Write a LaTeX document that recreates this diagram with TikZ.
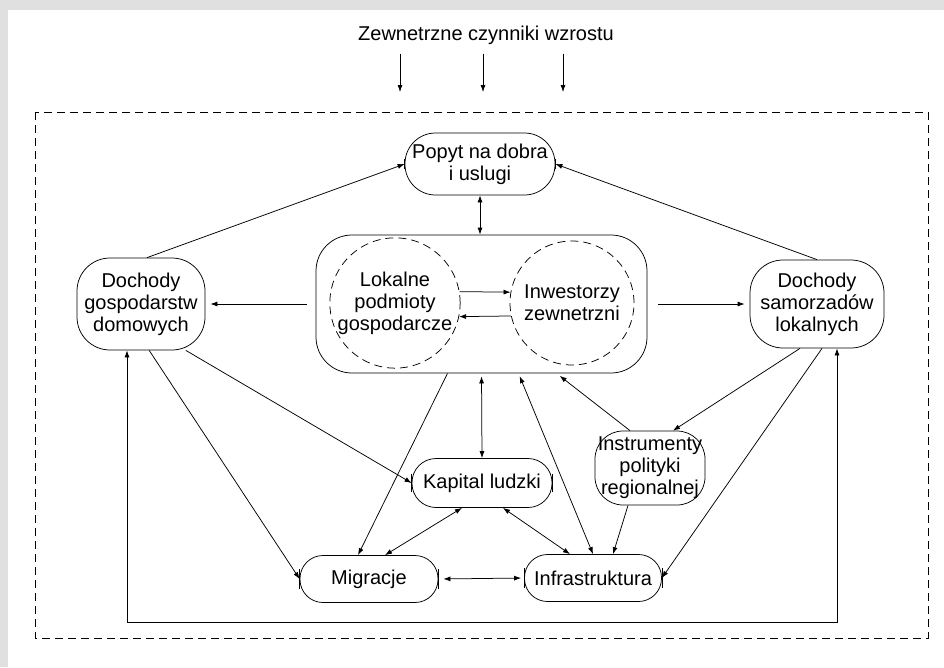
\documentclass[tikz,border=0pt]{standalone}
\usepackage{fontspec}
\setmainfont{Liberation Sans}
\usetikzlibrary{arrows.meta}
\begin{document}
\begin{tikzpicture}[x=1pt,y=1pt,line width=.75pt,>={Latex[length=7pt,width=5pt]},font=\fontsize{20}{22}\selectfont,
 ramka/.style={draw,align=center,inner sep=0pt,rounded corners=#1},
 kolo/.style={draw,circle,dash pattern=on 8pt off 5pt,minimum size=124pt,inner sep=0pt,align=center},
 kreska/.pic={\draw (0,-#1)--(0,#1);}]
\fill[black!12] (0,0) rectangle (944,-667);
\fill[white] (8,-10) rectangle (944,-667);
\useasboundingbox (0,0) rectangle (944,-667);
\draw[dash pattern=on 8pt off 5pt] (35,-112) rectangle (928,-638);
% wezly
\node[inner sep=0pt] (tytul) at (486,-35) {Zewnetrzne czynniki wzrostu};
\node[ramka=30.5pt,minimum width=150pt,minimum height=62pt] (popyt) at (480,-164) {Popyt na dobra\\i uslugi};
\node[ramka=33pt,minimum width=128pt,minimum height=92pt] (dg) at (141,-304) {Dochody\\gospodarstw\\domowych};
\node[ramka=33pt,minimum width=134pt,minimum height=88pt] (ds) at (817,-304) {Dochody\\samorzadów\\lokalnych};
\node[ramka=36pt,minimum width=331pt,minimum height=138pt] (firmy) at (481.5,-304) {};
\node[kolo] (lok) at (395,-303) {Lokalne\\podmioty\\gospodarcze};
\node[kolo] (inw) at (572,-303) {Inwestorzy\\zewnetrzni};
\node[ramka=24pt,minimum width=140pt,minimum height=49pt] (kap) at (482,-483) {Kapital ludzki};
\node[ramka=23pt,minimum width=138pt,minimum height=47pt] (migr) at (369,-579) {Migracje};
\node[ramka=23pt,minimum width=137pt,minimum height=47pt] (infra) at (593,-578) {Infrastruktura};
\node[ramka=28pt,minimum width=110pt,minimum height=74pt] (instr) at (650,-468) {Instrumenty\\polityki\\regionalnej};
\coordinate (dol) at (480,-622);
\foreach \n/\h in {popyt/5,kap/9,migr/10,infra/10} \path (\n.west) pic{kreska=\h} (\n.east) pic{kreska=\h};
% strzalki
\foreach \z/\x in {z1/400,z2/483,z3/563} {\coordinate (\z) at (\x,-92); \draw[->] ([yshift=-9pt]tytul.south -| \z) -- (\z);}
\draw[->] ([xshift=6pt]dg.north) -- (popyt.west);
\draw[->] (ds.north) -- (popyt.east);
\draw[<->] (popyt.south) -- (popyt.south |- firmy.north);
\draw[->,shorten <=9pt,shorten >=5pt] (firmy.west) -- (dg.east);
\draw[->,shorten <=11pt,shorten >=5pt] (firmy.east) -- (ds.west);
\draw[->] (lok.10) -- (inw.170);
\draw[->] (inw.192) -- (lok.-12);
\draw[->] (dg.-46) -- (kap.west);
\draw[->] (dg.-80) -- (migr.west);
\draw[<->] ([xshift=-14pt]dg.south) -- ([xshift=-14pt]dg.south |- dol) -- ([xshift=20pt]ds.south |- dol) -- ([xshift=20pt]ds.south);
\draw[->] ([xshift=-34pt]firmy.south) -- ([xshift=-11pt]migr.north);
\draw[<->,shorten <=3pt] (firmy.south) -- (kap.north);
\draw[<->,shorten <=3pt] ([xshift=37pt]firmy.south) -- (infra.north);
\draw[<->] ([xshift=-20pt]kap.south) -- ([xshift=16pt]migr.north);
\draw[<->] ([xshift=21pt]kap.south) -- ([xshift=-23pt]infra.north);
\draw[->,shorten >=4pt] ([xshift=-20pt]instr.north) -- ([xshift=75pt]firmy.south);
\draw[->] ([xshift=-17pt]ds.south) -- ([xshift=23pt]instr.north);
\draw[->] ([xshift=-22pt]instr.south) -- ([xshift=20pt]infra.north);
\draw[->] ([xshift=5pt]ds.south) -- (infra.east);
\draw[<->,shorten <=5pt,shorten >=3pt] (migr.east) -- (infra.west);
\end{tikzpicture}
\end{document}
